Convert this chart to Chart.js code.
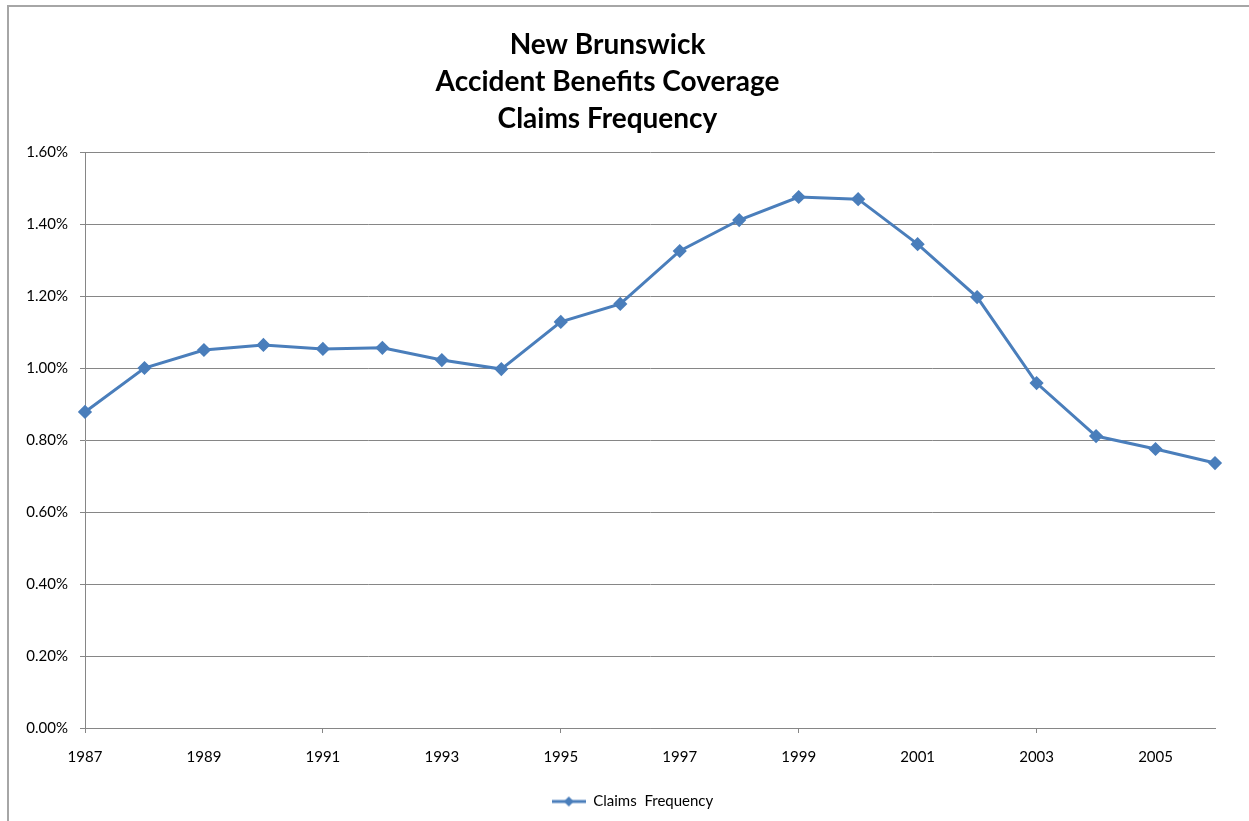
<!DOCTYPE html>
<html>
<head>
<meta charset="utf-8">
<script src="https://cdn.jsdelivr.net/npm/chart.js@4"></script>
<style>
  html, body { margin: 0; padding: 0; background: #fff; }
  #wrap { width: 1249px; height: 821px; }
</style>
</head>
<body>
<div id="wrap"><canvas id="chart" width="1249" height="821"></canvas></div>
<script>
// data (percent units)
const years = ["1987", "1988", "1989", "1990", "1991", "1992", "1993", "1994", "1995", "1996",
               "1997", "1998", "1999", "2000", "2001", "2002", "2003", "2004", "2005", "2006"];
const claimsFrequency = [0.878, 1.000, 1.050, 1.064, 1.053, 1.056, 1.022, 0.997, 1.128, 1.178,
                         1.325, 1.411, 1.475, 1.469, 1.344, 1.197, 0.958, 0.811, 0.775, 0.736];
const seriesLabel = "Claims  Frequency";
const titleLines = ["New Brunswick", "Accident Benefits Coverage", "Claims Frequency"];

const LINE_COLOR = "#4a7ebb";
const AXIS_COLOR = "#868686";
const FONT = "Lato, 'Liberation Sans', sans-serif";

/* legend swatch: line with a diamond, like the spreadsheet legend */
function legendSwatch() {
  const c = document.createElement("canvas");
  c.width = 34; c.height = 12;
  const g = c.getContext("2d");
  g.strokeStyle = LINE_COLOR;
  g.lineWidth = 3;
  g.beginPath(); g.moveTo(0, 6); g.lineTo(34, 6); g.stroke();
  g.fillStyle = LINE_COLOR;
  g.beginPath(); g.moveTo(17, 1); g.lineTo(22, 6); g.lineTo(17, 11); g.lineTo(12, 6); g.closePath(); g.fill();
  return c;
}

/* outer frame of the chart object, legend centred on the frame */
const framePlugin = {
  id: "frame",
  afterLayout(chart) {
    chart.legend.left += 25;
    chart.legend.right += 25;
  },
  beforeDraw(chart) {
    const ctx = chart.ctx;
    ctx.save();
    ctx.strokeStyle = "#a6a6a6";
    ctx.lineWidth = 2;
    ctx.strokeRect(8, 6, 2000, 2000);
    ctx.restore();
  }
};

new Chart(document.getElementById("chart"), {
  type: "line",
  data: {
    labels: years,
    datasets: [{
      label: seriesLabel,
      data: claimsFrequency,
      borderColor: LINE_COLOR,
      backgroundColor: LINE_COLOR,
      borderWidth: 3,
      pointStyle: "rectRot",
      pointRadius: 5,
      pointHoverRadius: 5,
      tension: 0
    }]
  },
  options: {
    responsive: false,
    animation: false,
    layout: { padding: { top: 0, right: 34, bottom: 2, left: 0 } },
    plugins: {
      title: {
        display: true,
        text: titleLines,
        color: "#000",
        font: { family: FONT, size: 28, weight: "bold", lineHeight: 37 / 28 },
        padding: { top: 26, bottom: 15 }
      },
      legend: {
        position: "bottom",
        labels: {
          color: "#000",
          font: { family: FONT, size: 15 },
          usePointStyle: true,
          pointStyle: legendSwatch(),
          pointStyleWidth: 34,
          boxHeight: 12
        }
      },
      tooltip: { enabled: false }
    },
    scales: {
      x: {
        type: "category",
        offset: false,
        afterFit(s) { s.height = 56; },
        grid: {
          drawOnChartArea: false,
          drawTicks: true,
          tickLength: 5,
          color: c => (c.index % 2 === 0 ? AXIS_COLOR : "rgba(0,0,0,0)")
        },
        border: { color: AXIS_COLOR, width: 1 },
        ticks: {
          autoSkip: false,
          maxRotation: 0,
          padding: 15,
          color: "#000",
          font: { family: FONT, size: 15 },
          callback(v, i) { return i % 2 === 0 ? this.getLabelForValue(v) : null; }
        }
      },
      y: {
        min: 0,
        max: 1.6,
        afterFit(s) { s.width = 85; },
        grid: { color: AXIS_COLOR, tickLength: 5 },
        border: { color: AXIS_COLOR, width: 1 },
        ticks: {
          stepSize: 0.2,
          padding: 12,
          color: "#000",
          font: { family: FONT, size: 15 },
          callback: v => v.toFixed(2) + "%"
        }
      }
    }
  },
  plugins: [framePlugin]
});
</script>
</body>
</html>
